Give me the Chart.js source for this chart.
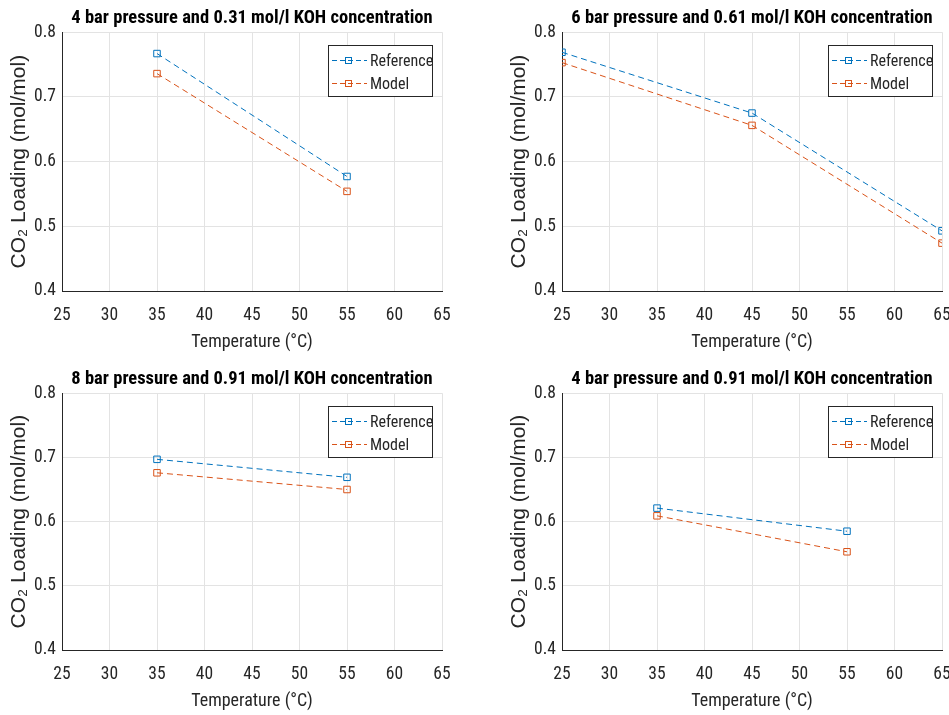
<!DOCTYPE html>
<html>
<head>
<meta charset="utf-8">
<script src="https://cdn.jsdelivr.net/npm/chart.js@4/dist/chart.umd.min.js"></script>
<style>
    html, body { margin: 0; padding: 0; background: #fff; }
    body { width: 949px; height: 715px; position: relative; overflow: hidden; }
    .plot { position: absolute; }
</style>
</head>
<body>
<div class="plot" id="p1" style="left:0;top:0;width:474px;height:357px"><canvas id="c1"></canvas></div>
<div class="plot" id="p2" style="left:480px;top:0;width:469px;height:357px"><canvas id="c2"></canvas></div>
<div class="plot" id="p3" style="left:0;top:361px;width:474px;height:355px"><canvas id="c3"></canvas></div>
<div class="plot" id="p4" style="left:480px;top:361px;width:469px;height:355px"><canvas id="c4"></canvas></div>
<script>
'use strict';

const seriesNames = ['Reference', 'Model'];
const xTicks = [25, 30, 35, 40, 45, 50, 55, 60, 65];
const yTicks = [0.4, 0.5, 0.6, 0.7, 0.8];

const titles = [
    '4 bar pressure and 0.31 mol/l KOH concentration',
    '6 bar pressure and 0.61 mol/l KOH concentration',
    '8 bar pressure and 0.91 mol/l KOH concentration',
    '4 bar pressure and 0.91 mol/l KOH concentration',
];

const temps1 = [35, 55];
const ref1 = [0.767, 0.577];
const model1 = [0.736, 0.554];

const temps2 = [25, 45, 65];
const ref2 = [0.769, 0.675, 0.493];
const model2 = [0.753, 0.656, 0.474];

const temps3 = [35, 55];
const ref3 = [0.697, 0.669];
const model3 = [0.676, 0.650];

const temps4 = [35, 55];
const ref4 = [0.621, 0.585];
const model4 = [0.609, 0.553];

const FONT = "'Liberation Sans Narrow', 'Roboto Condensed', 'Liberation Sans', sans-serif";
const WIDE_FONT = "'Liberation Sans', Arial, sans-serif";
const colors = ['#0072BD', '#D95319'];
const axisColor = '#262626';
const gridColor = '#e3e3e3';

// legend box inside the axes, top right, like matlab's 'northeast'
const insideLegend = {
    id: 'insideLegend',
    afterDraw(chart) {
        const {ctx, chartArea} = chart;
        const w = 104, h = 51;
        const x = Math.round(chartArea.right - 10 - w);
        const y = Math.round(chartArea.top + 13);
        ctx.save();
        ctx.fillStyle = '#fff';
        ctx.fillRect(x, y, w, h);
        ctx.strokeStyle = axisColor;
        ctx.lineWidth = 1;
        ctx.strokeRect(x + 0.5, y + 0.5, w, h);
        chart.data.datasets.forEach((ds, i) => {
            const cy = y + 15.5 + i * 23;
            ctx.strokeStyle = ds.borderColor;
            ctx.lineWidth = 1;
            ctx.setLineDash([5, 3]);
            ctx.beginPath();
            ctx.moveTo(x + 4, cy);
            ctx.lineTo(x + 39, cy);
            ctx.stroke();
            ctx.setLineDash([]);
            ctx.strokeRect(x + 17.5, cy - 3, 6, 6);
            ctx.fillStyle = axisColor;
            ctx.font = `16px ${FONT}`;
            ctx.textBaseline = 'middle';
            ctx.fillText(ds.label, x + 42, cy + 1);
        });
        ctx.restore();
    }
};

function makeDatasets(temps, ref, model) {
    return [ref, model].map((vals, i) => ({
        label: seriesNames[i],
        data: temps.map((t, j) => ({x: t, y: vals[j]})),
        borderColor: colors[i],
        borderWidth: 1,
        borderDash: [6, 4],
        pointStyle: 'rect',
        pointRadius: 4.6,
        pointBorderWidth: 1,
        pointBackgroundColor: 'rgba(0,0,0,0)',
        pointBorderColor: colors[i],
        fill: false,
        tension: 0,
    }));
}

function makeChart(id, title, datasets, padLeft, padRight) {
    const ctx = document.getElementById(id).getContext('2d');
    return new Chart(ctx, {
        type: 'line',
        data: {datasets},
        plugins: [insideLegend],
        options: {
            responsive: true,
            maintainAspectRatio: false,
            animation: false,
            events: [],
            layout: {padding: {left: padLeft, right: padRight, top: 0, bottom: 0}},
            plugins: {
                legend: {display: false},
                tooltip: {enabled: false},
                title: {
                    display: true,
                    text: title,
                    fullSize: false,
                    color: '#000',
                    font: {family: FONT, size: 18.5, weight: 'bold', lineHeight: 1.2},
                    padding: {top: 7, bottom: 3},
                },
            },
            scales: {
                x: {
                    type: 'linear',
                    min: xTicks[0],
                    max: xTicks[xTicks.length - 1],
                    afterBuildTicks: s => { s.ticks = xTicks.map(v => ({value: v})); },
                    afterFit: s => { s.height = 66; s.paddingLeft = 0; s.paddingRight = 0; },
                    grid: {color: gridColor, drawTicks: false},
                    border: {color: axisColor, width: 1},
                    ticks: {color: axisColor, padding: 14, maxRotation: 0, autoSkip: false,
                            font: {family: FONT, size: 17.5}},
                    title: {display: true, text: 'Temperature (°C)', color: axisColor,
                            font: {family: FONT, size: 18}, padding: {top: 0, bottom: 4}},
                },
                y: {
                    type: 'linear',
                    min: yTicks[0],
                    max: yTicks[yTicks.length - 1],
                    afterBuildTicks: s => { s.ticks = yTicks.map(v => ({value: v})); },
                    afterFit: s => { s.width = 62; s.paddingTop = 0; s.paddingBottom = 0; },
                    grid: {color: gridColor, drawTicks: false},
                    border: {color: axisColor, width: 1},
                    ticks: {color: axisColor, padding: 6, autoSkip: false,
                            font: {family: FONT, size: 17.5},
                            callback: v => v.toFixed(1)},
                    title: {display: true, text: 'CO₂ Loading (mol/mol)', color: axisColor,
                            font: {family: WIDE_FONT, size: 21, lineHeight: 1.2}, padding: {top: 7, bottom: 0}},
                },
            },
        },
    });
}

makeChart('c1', titles[0], makeDatasets(temps1, ref1, model1), 0, 32);
makeChart('c2', titles[1], makeDatasets(temps2, ref2, model2), 20, 7);
makeChart('c3', titles[2], makeDatasets(temps3, ref3, model3), 0, 32);
makeChart('c4', titles[3], makeDatasets(temps4, ref4, model4), 20, 7);
</script>
</body>
</html>
